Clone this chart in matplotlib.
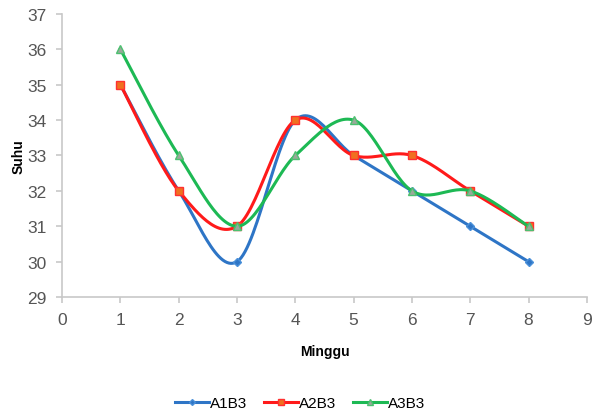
import numpy as np
import matplotlib.pyplot as plt

minggu = [1, 2, 3, 4, 5, 6, 7, 8]
a1b3 = [35, 32, 30, 34, 33, 32, 31, 30]
a2b3 = [35, 32, 31, 34, 33, 33, 32, 31]
a3b3 = [36, 33, 31, 33, 34, 32, 32, 31]
names = ['A1B3', 'A2B3', 'A3B3']


def smooth(x, y, n=30):
  # excel-like smoothed line (catmull-rom bezier)
  x = np.asarray(x, float)
  y = np.asarray(y, float)
  px = np.concatenate(([x[0]], x, [x[-1]]))
  py = np.concatenate(([y[0]], y, [y[-1]]))
  xs, ys = [], []
  t = np.linspace(0, 1, n)
  for i in range(1, len(px) - 2):
    p0 = np.array([px[i], py[i]])
    p3 = np.array([px[i + 1], py[i + 1]])
    c1 = p0 + (np.array([px[i + 1], py[i + 1]]) - np.array([px[i - 1], py[i - 1]])) / 6
    c2 = p3 - (np.array([px[i + 2], py[i + 2]]) - np.array([px[i], py[i]])) / 6
    b = ((1 - t) ** 3)[:, None] * p0 + (3 * (1 - t) ** 2 * t)[:, None] * c1 \
        + (3 * (1 - t) * t ** 2)[:, None] * c2 + (t ** 3)[:, None] * p3
    xs.append(b[:, 0])
    ys.append(b[:, 1])
  return np.concatenate(xs), np.concatenate(ys)


plt.rcParams['font.family'] = ['Liberation Sans', 'DejaVu Sans']
fig = plt.figure(figsize=(5.97, 4.14), dpi=100)
ax = fig.add_axes([0.104, 0.28, 0.879, 0.684])

styles = [
  dict(color='#2e75c6', marker='D', mfc='#2e75c6', mec='#4a90d9', ms=4),
  dict(color='#ff1a1a', marker='s', mfc='#f07020', mec='#ff3030', ms=6),
  dict(color='#1db954', marker='^', mfc='#9aa89a', mec='#4cc070', ms=6),
]
for ys, name, st in zip([a1b3, a2b3, a3b3], names, styles):
  sx, sy = smooth(minggu, ys)
  ax.plot(sx, sy, color=st['color'], lw=2.2)
  ax.plot(minggu, ys, ls='none', marker=st['marker'], mfc=st['mfc'],
          mec=st['mec'], ms=st['ms'], mew=1)
  ax.plot([], [], color=st['color'], lw=2.2, marker=st['marker'],
          mfc=st['mfc'], mec=st['mec'], ms=st['ms'] - 1, label=name)

ax.set_xlim(0, 9)
ax.set_ylim(29, 37)
ax.set_xticks(range(0, 10))
ax.set_yticks(range(29, 38))
for s in ['top', 'right']:
  ax.spines[s].set_visible(False)
for s in ['left', 'bottom']:
  ax.spines[s].set_color('#c8c8c8')
  ax.spines[s].set_linewidth(1.2)
ax.tick_params(colors='#c8c8c8', labelcolor='#555555', labelsize=12.5,
               length=4, width=1.2, direction='out')
ax.tick_params(axis='x', pad=7)
ax.tick_params(axis='y', pad=7)
ax.set_xlabel('Minggu', fontsize=10, fontweight='bold', labelpad=12)
ax.set_ylabel('Suhu', fontsize=10, fontweight='bold')
ax.yaxis.set_label_coords(-0.07, 0.5)

fig.legend(loc='center', bbox_to_anchor=(0.503, 0.024), ncol=3, frameon=False,
           fontsize=11, handlelength=2.2, columnspacing=1.1, handletextpad=0.1)

fig.savefig('out.png', dpi=100)
